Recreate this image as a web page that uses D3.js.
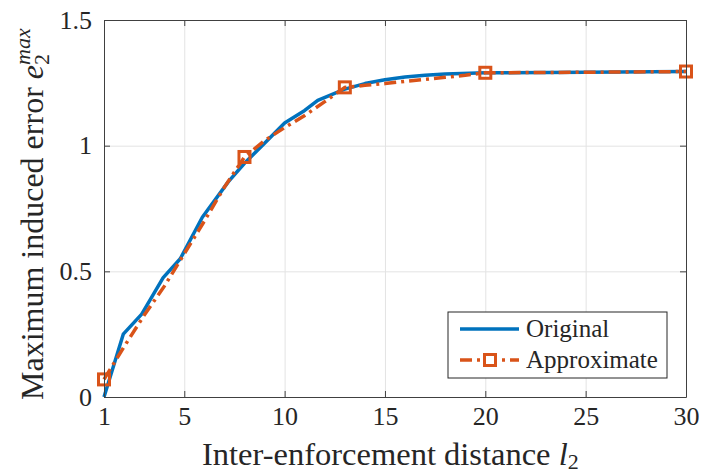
<!DOCTYPE html>
<html>
<head>
<meta charset="utf-8">
<style>
  body { margin: 0; background: #fff; }
  text { font-family: "Liberation Serif", "Times New Roman", serif; fill: #262626; }
  .axis path, .axis line { stroke: #404040; stroke-width: 1; }
  .grid line { stroke: #e3e3e3; stroke-width: 1; }
  .grid path { display: none; }
</style>
</head>
<body>
<svg id="chart" width="703" height="475"></svg>
<script src="https://cdn.jsdelivr.net/npm/d3@7"></script>
<script>
  // DATA
  var origX = [1, 1.96, 2.88, 3.95, 4.8, 5.9, 7.2, 8, 9, 10, 11, 11.65, 13, 14, 15, 16, 17, 18, 20, 25, 30];
  var origY = [0, 0.25, 0.33, 0.475, 0.55, 0.715, 0.857, 0.93, 1.01, 1.09, 1.14, 1.18, 1.225, 1.247, 1.262, 1.273, 1.28, 1.285, 1.29, 1.292, 1.295];

  var approxX = [1, 2, 3, 4, 5, 6, 7, 8, 9, 10, 11, 12, 13, 14, 15, 16, 17, 18, 19, 20, 25, 30];
  var approxY = [0.07, 0.2, 0.325, 0.44, 0.57, 0.7, 0.835, 0.955, 1.02, 1.072, 1.12, 1.175, 1.232, 1.24, 1.247, 1.256, 1.264, 1.272, 1.28, 1.29, 1.292, 1.295];
  var approxMarkers = [1, 8, 13, 20, 30];

  var xTicks = [1, 5, 10, 15, 20, 25, 30];
  var yTicks = [0, 0.5, 1, 1.5];
  var yTickLabels = ["0", "0.5", "1", "1.5"];

  var blue = "#0072BD", orange = "#D95319";

  var svg = d3.select("#chart");
  var mLeft = 104, mRight = 686, mTop = 20, mBottom = 397;
  var width = mRight - mLeft, height = mBottom - mTop;

  var x = d3.scaleLinear().domain([1, 30]).range([0, width]);
  var y = d3.scaleLinear().domain([0, 1.5]).range([height, 0]);

  var g = svg.append("g").attr("transform", "translate(" + mLeft + "," + mTop + ")");

  // grid
  g.append("g").attr("class", "grid")
    .attr("transform", "translate(0," + height + ")")
    .call(d3.axisBottom(x).tickValues(xTicks).tickSize(-height).tickFormat(""));
  g.append("g").attr("class", "grid")
    .call(d3.axisLeft(y).tickValues(yTicks).tickSize(-width).tickFormat(""));

  // lines
  var origData = origX.map(function(d, i) { return [d, origY[i]]; });
  var approxData = approxX.map(function(d, i) { return [d, approxY[i]]; });
  var line = d3.line().x(function(d) { return x(d[0]); }).y(function(d) { return y(d[1]); });

  g.append("path").datum(origData)
    .attr("d", line)
    .attr("fill", "none")
    .attr("stroke", blue)
    .attr("stroke-width", 3.5)
    .attr("stroke-linejoin", "round");

  g.append("path").datum(approxData)
    .attr("d", line)
    .attr("fill", "none")
    .attr("stroke", orange)
    .attr("stroke-width", 3.5)
    .attr("stroke-dasharray", "12,5,3,5");

  var markerData = approxData.filter(function(d) { return approxMarkers.indexOf(d[0]) >= 0; });
  g.selectAll(".mk").data(markerData).enter().append("rect")
    .attr("class", "mk")
    .attr("x", function(d) { return x(d[0]) - 5.5; })
    .attr("y", function(d) { return y(d[1]) - 5.5; })
    .attr("width", 11).attr("height", 11)
    .attr("fill", "none")
    .attr("stroke", orange)
    .attr("stroke-width", 3);

  // axes (box with inward ticks)
  g.append("g").attr("class", "axis")
    .attr("transform", "translate(0," + height + ")")
    .call(d3.axisBottom(x).tickValues(xTicks).tickSizeInner(-6).tickSizeOuter(0).tickPadding(10));
  g.append("g").attr("class", "axis")
    .call(d3.axisLeft(y).tickValues(yTicks).tickSizeInner(-6).tickSizeOuter(0).tickPadding(12)
      .tickFormat(function(d, i) { return yTickLabels[i]; }));
  g.append("g").attr("class", "axis")
    .call(d3.axisTop(x).tickValues(xTicks).tickSizeInner(-6).tickSizeOuter(0).tickFormat(""));
  g.append("g").attr("class", "axis")
    .attr("transform", "translate(" + width + ",0)")
    .call(d3.axisRight(y).tickValues(yTicks).tickSizeInner(-6).tickSizeOuter(0).tickFormat(""));

  g.selectAll(".axis text")
    .style("font-family", "'Liberation Serif', serif")
    .style("font-size", "26px")
    .attr("fill", "#262626");

  // x label
  var xl = svg.append("text")
    .attr("x", 202).attr("y", 465)
    .attr("text-anchor", "start")
    .style("font-size", "32.5px");
  xl.append("tspan").text("Inter-enforcement distance ");
  xl.append("tspan").attr("font-style", "italic").text("l");
  xl.append("tspan").attr("font-size", "22px").attr("dy", 4).text("2");

  // y label
  var yl = svg.append("text")
    .attr("transform", "translate(43,400) rotate(-90)")
    .attr("text-anchor", "start")
    .style("font-size", "32px");
  yl.append("tspan").text("Maximum induced error ");
  yl.append("tspan").attr("font-style", "italic").text("e");
  var sub = yl.append("tspan").attr("font-size", "22px").attr("dy", 6).text("2");
  var subW = sub.node().getComputedTextLength();
  yl.append("tspan").attr("font-size", "22px").attr("font-style", "italic")
    .attr("dx", -subW).attr("dy", -19).text("max");

  // legend
  var lg = svg.append("g");
  lg.append("rect")
    .attr("x", 448).attr("y", 312).attr("width", 219).attr("height", 66)
    .attr("fill", "#fff").attr("stroke", "#262626").attr("stroke-width", 1);
  lg.append("line").attr("x1", 460).attr("x2", 519).attr("y1", 329).attr("y2", 329)
    .attr("stroke", blue).attr("stroke-width", 3.5);
  lg.append("line").attr("x1", 460).attr("x2", 519).attr("y1", 360).attr("y2", 360)
    .attr("stroke", orange).attr("stroke-width", 3.5).attr("stroke-dasharray", "12,5,3,5");
  lg.append("rect").attr("x", 484.5).attr("y", 354.5).attr("width", 11).attr("height", 11)
    .attr("fill", "#fff").attr("stroke", orange).attr("stroke-width", 3);
  lg.append("text").attr("x", 526).attr("y", 337).style("font-size", "25px").text("Original");
  lg.append("text").attr("x", 526).attr("y", 368).style("font-size", "25px").text("Approximate");
</script>
</body>
</html>
